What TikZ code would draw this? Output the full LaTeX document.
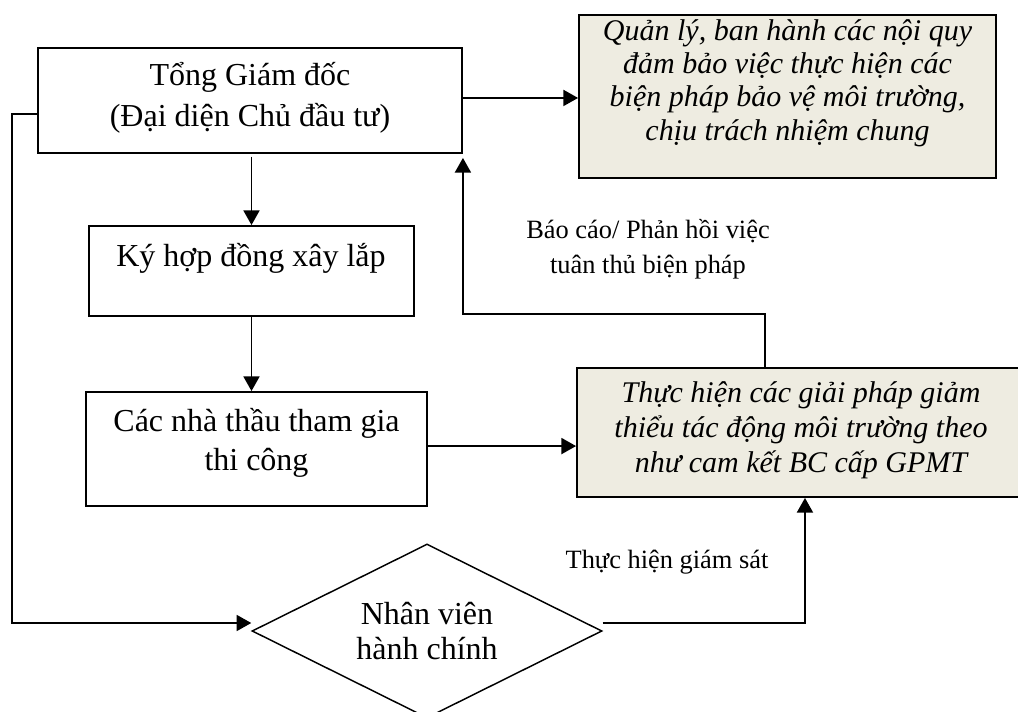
\documentclass[tikz,border=0pt]{standalone}
\usepackage{fontspec}
\setmainfont{Liberation Serif}
\usetikzlibrary{shapes.geometric,arrows.meta}
\definecolor{boxtan}{HTML}{EEECE1}
\begin{document}
\begin{tikzpicture}[x=0.75pt,y=-0.75pt,
  box/.style={draw,line width=1.4pt,inner sep=0pt},
  tanbox/.style={box,fill=boxtan},
  conn/.style={line width=1.4pt},
  arr/.style={conn,-{Triangle[length=11pt,width=12pt]}},
  maintext/.style={font=\fontsize{24}{30.75}\selectfont,align=center,inner sep=0pt},
  itext/.style={font=\fontsize{22.5}{25}\selectfont\itshape,align=center,inner sep=0pt},
  lbltext/.style={font=\fontsize{19.8}{26.25}\selectfont,align=center,inner sep=0pt}
]
\useasboundingbox (0,0) rectangle (1018,712);
\clip (0,0) rectangle (1018,712);

% boxes
\node[box,minimum width=318pt,minimum height=78.75pt] (tgd) at (250,100.5) {};
\node[tanbox,minimum width=312.75pt,minimum height=122.25pt] (ql) at (787.5,96.5) {};
\node[box,minimum width=243.75pt,minimum height=67.5pt] (ky) at (251.5,271) {};
\node[box,minimum width=255.75pt,minimum height=85.5pt] (cac) at (256.5,449) {};
\node[tanbox,minimum width=339.75pt,minimum height=96.75pt] (th) at (803.5,432.5) {};
\node[draw,line width=1.1pt,diamond,aspect=2,inner sep=0pt,minimum width=262.5pt,minimum height=130.5pt,
      font=\fontsize{24}{26.25}\selectfont,align=center] (nv) at (427,631) {Nhân viên\\hành chính};

% texts
\node[maintext] (tgdT) at (250,97.5) {Tổng Giám đốc\\(Đại diện Chủ đầu tư)};
\node[itext] (qlT) at (787.5,83) {Quản lý, ban hành các nội quy\\đảm bảo việc thực hiện các\\biện pháp bảo vệ môi trường,\\chịu trách nhiệm chung};
\node[maintext] (kyT) at (251,258) {Ký hợp đồng xây lắp};
\node[maintext,font=\fontsize{24}{29.25}\selectfont] (cacT) at (256.5,442.5) {Các nhà thầu tham gia\\thi công};
\node[itext,font=\fontsize{22.5}{26.25}\selectfont\itshape] (thT) at (801,430) {Thực hiện các giải pháp giảm\\thiểu tác động môi trường theo\\như cam kết BC cấp GPMT};
\node[lbltext] (fbL) at (648,249) {Báo cáo/ Phản hồi việc\\tuân thủ biện pháp};
\node[lbltext] (gsL) at (667,562) {Thực hiện giám sát};

% connectors
\draw[arr] ([yshift=1.9pt]tgd.east) -- ([yshift=1.9pt]tgd.east -| ql.west);
\draw[arr] ([yshift=-2pt]ky.north |- tgd.south) -- (ky.north);
\draw[arr] (ky.south) -- (ky.south |- cac.north);
\draw[arr] ([yshift=2.2pt]cac.east) -- ([yshift=2.2pt]cac.east -| th.west);
\draw[arr,shorten >=3pt] ([xshift=-28.9pt]th.north) -- ++(0,-53) -| (tgd.south east);
\draw[arr] ([yshift=-10.1pt]tgd.west) -- ++(-25,0) |- ([yshift=6pt]nv.west);
\draw[arr] ([yshift=6pt]nv.east) -| ([xshift=1.1pt]th.south);
\end{tikzpicture}
\end{document}
